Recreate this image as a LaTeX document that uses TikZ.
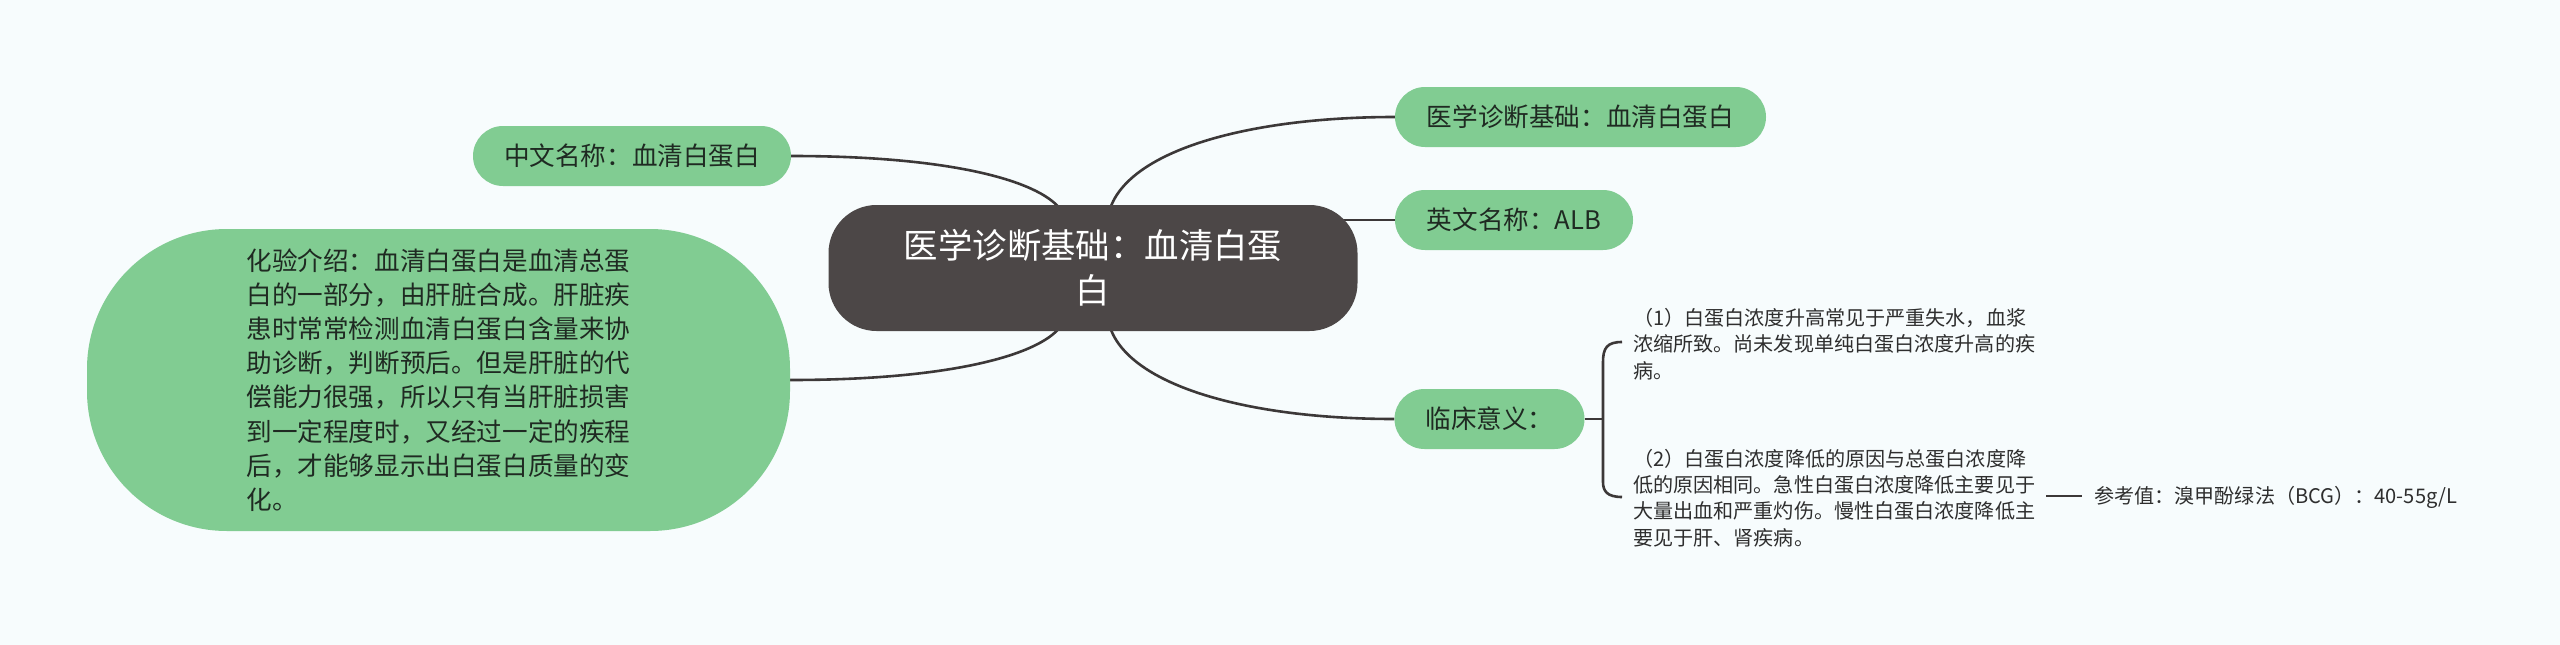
\documentclass[tikz,border=0pt]{standalone}
\usepackage{fontspec}
\setmainfont{Noto Sans CJK SC}
\usetikzlibrary{calc}
\pgfdeclarelayer{bg}
\pgfsetlayers{bg,main}
\definecolor{bgc}{HTML}{F7FCFD}
\definecolor{leaf}{HTML}{81CC92}
\definecolor{rootc}{HTML}{4C4747}
\definecolor{linec}{HTML}{3C3838}
\definecolor{txt}{HTML}{1F2A22}
\definecolor{smalltxt}{HTML}{2E2E2E}
\begin{document}
\begin{tikzpicture}[x=1pt,y=-1pt,
  rootnode/.style={fill=rootc, text=white, rounded corners=48pt, minimum width=529pt, minimum height=126pt, inner sep=0pt, align=center, font=\fontsize{34.4pt}{45pt}\selectfont},
  leafnode/.style={fill=leaf, text=txt, rounded corners=30pt, minimum height=60pt, inner sep=0pt, font=\fontsize{25.6pt}{34.2pt}\selectfont},
  bignode/.style={fill=leaf, text=txt, rounded corners=140pt, minimum width=703pt, minimum height=302pt, inner sep=0pt, align=left, font=\fontsize{25.6pt}{34.2pt}\selectfont},
  plain/.style={text=smalltxt, inner sep=0pt, align=left, font=\fontsize{20.1pt}{26.2pt}\selectfont},
  conn/.style={draw=linec, line width=2.6pt}]
\useasboundingbox (0,0) rectangle (2560,645);

\node[rootnode] (c) at (1093,268) {医学诊断基础：血清白蛋\\白};
\node[leafnode, minimum width=318pt] (zh) at (632,156) {中文名称：血清白蛋白};
\node[bignode] (intro) at (438.5,380) {化验介绍：血清白蛋白是血清总蛋\\白的一部分，由肝脏合成。肝脏疾\\患时常常检测血清白蛋白含量来协\\助诊断，判断预后。但是肝脏的代\\偿能力很强，所以只有当肝脏损害\\到一定程度时，又经过一定的疾程\\后，才能够显示出白蛋白质量的变\\化。};
\node[leafnode, minimum width=371pt] (dx) at (1580.5,117) {医学诊断基础：血清白蛋白};
\node[leafnode, minimum width=238pt] (en) at (1514,220) {英文名称：ALB};
\node[leafnode, minimum width=190pt] (lc) at (1489.5,419) {临床意义：};
\node[plain, anchor=west] (t1) at (1633,344) {（1）白蛋白浓度升高常见于严重失水，血浆\\浓缩所致。尚未发现单纯白蛋白浓度升高的疾\\病。};
\node[plain, anchor=west] (t2) at (1633,498) {（2）白蛋白浓度降低的原因与总蛋白浓度降\\低的原因相同。急性白蛋白浓度降低主要见于\\大量出血和严重灼伤。慢性白蛋白浓度降低主\\要见于肝、肾疾病。};
\node[plain, anchor=west] (ref) at (2094,497) {参考值：溴甲酚绿法（BCG）：40-55g/L};

\coordinate (bt) at (1622,342);
\coordinate (bb) at (1622,497);
\coordinate (bm) at (1603,419);
\coordinate (r0) at (2046,496);

\begin{pgfonlayer}{bg}
\fill[bgc] (0,0) rectangle (2560,645);
\draw[conn] (zh.east) .. controls +(160,0) and +(-22,-28) .. ($(c.north)+(-33,4)$);
\draw[conn] (intro.east) .. controls +(160,0) and +(-22,28) .. ($(c.south)+(-33,-4)$);
\draw[conn] ($(c.north)+(17,4)$) .. controls +(20,-59) and +(-145,0) .. (dx.west);
\draw[conn] ($(c.south)+(17,-4)$) .. controls +(20,59) and +(-145,0) .. (lc.west);
\draw[conn] ($(en.west -| c.east)+(-25,0)$) -- (en.west);
\end{pgfonlayer}
\draw[conn] (lc.east) -- (bm);
\draw[conn] (bt) .. controls (1607,342) and (1603,348) .. (1603,362) -- (1603,482) .. controls (1603,491) and (1607,497) .. (bb);
\draw[conn] (r0) -- ($(ref.west)+(-12,-1)$);
\end{tikzpicture}
\end{document}
